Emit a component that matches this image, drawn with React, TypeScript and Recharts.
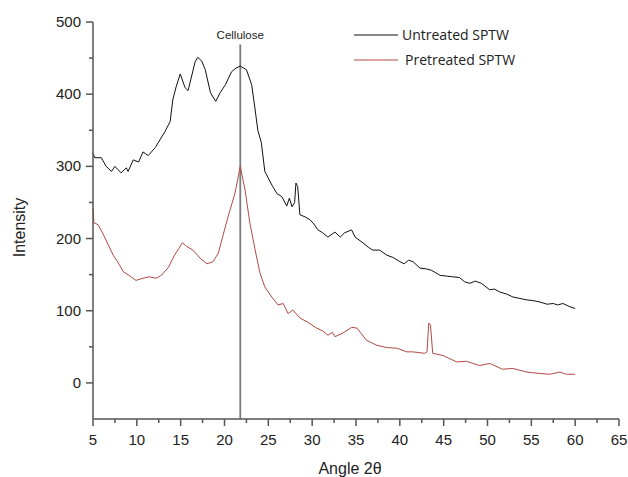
import { LineChart, Line, XAxis, YAxis, ReferenceLine, Legend } from "recharts";

// XRD patterns (angle 2θ, intensity)
const untreatedAngle = [
  5.0, 5.2, 5.95, 6.5, 7.1, 7.5, 8.2, 8.8, 9.0, 9.6, 10.2, 10.7, 11.3, 12.1, 13.2, 13.8, 14.1, 14.5,
  14.95, 15.5, 15.85, 16.65, 16.95, 17.4, 17.8, 18.4, 19.0, 19.5, 20.1, 20.8, 21.3, 21.8, 22.2, 22.5,
  23.1, 23.5, 23.8, 24.2, 24.6, 25.5, 26.0, 26.55, 27.1, 27.4, 27.7, 28.0, 28.15, 28.35, 28.6, 29.2,
  29.75, 30.2, 30.65, 31.2, 31.8, 32.6, 33.2, 33.7, 34.5, 34.9, 35.8, 36.4, 36.9, 37.7, 38.5, 39.2,
  40.0, 40.5, 41.0, 41.5, 42.3, 43.0, 43.6, 44.6, 45.3, 46.0, 46.8, 47.4, 48.0, 48.6, 49.3, 50.25,
  50.8, 51.4, 52.2, 52.9, 53.7, 54.5, 55.2, 56.0, 56.8, 57.5, 58.0, 58.6, 59.3, 60.0,
];
const untreatedIntensity = [
  318, 312, 312, 300, 293, 300, 291, 298, 293, 309, 306, 320, 315, 326, 348, 362, 392, 411,
  428, 409, 405, 445, 451, 446, 434, 402, 390, 402, 413, 431, 436, 439, 436, 434,
  413, 378, 350, 333, 293, 272, 262, 258, 245, 256, 244, 250, 277, 272, 233, 230,
  226, 220, 212, 208, 202, 209, 202, 208, 212, 202, 194, 188, 184, 184, 177, 174,
  168, 165, 170, 168, 159, 158, 156, 149, 148, 147, 146, 140, 138, 141, 138, 129,
  130, 126, 123, 119, 117, 115, 114, 112, 109, 110, 108, 110, 106, 103,
];

const pretreatedAngle = [
  5.0, 5.1, 5.6, 6.2, 6.75, 7.3, 7.9, 8.45, 9.1, 9.9, 10.7, 11.4, 12.2, 12.8, 13.6, 14.3, 15.2, 15.7,
  16.4, 17.2, 18.0, 18.7, 19.3, 19.6, 20.4, 21.2, 21.8, 22.35, 22.9, 23.5, 24.05, 24.6, 25.4, 26.1,
  26.7, 27.25, 27.8, 28.6, 29.5, 30.5, 31.2, 31.8, 32.3, 32.6, 33.5, 34.5, 35.1, 36.2, 37.4, 38.5,
  39.7, 40.8, 41.5, 42.85, 43.1, 43.3, 43.5, 43.75, 44.9, 46.5, 47.6, 49.1, 50.25, 51.7, 52.9, 54.5,
  56.0, 57.1, 58.25, 59.0, 60.0,
];
const pretreatedIntensity = [
  242, 222, 219, 205, 191, 177, 166, 154, 149, 142, 145, 147, 145, 149, 160, 177, 194, 189,
  184, 173, 165, 168, 180, 194, 230, 263, 300, 267, 221, 184, 152, 133, 119, 108,
  110, 96, 101, 90, 84, 76, 72, 66, 70, 64, 69, 77, 76, 59, 52, 49,
  48, 43, 43, 41, 43, 83, 80, 41, 38, 29, 30, 24, 27, 19, 20, 15,
  13, 12, 15, 12, 12,
];

const seriesNames = ["Untreated SPTW", "Pretreated SPTW"];
const xTicks = [5, 7.5, 10, 12.5, 15, 17.5, 20, 22.5, 25, 27.5, 30, 32.5, 35, 37.5, 40, 42.5, 45, 47.5, 50, 52.5, 55, 57.5, 60, 62.5, 65];
const yTicks = [0, 50, 100, 150, 200, 250, 300, 350, 400, 450, 500];
const celluloseAngle = 21.8;
const celluloseTop = 469;

const untreated = untreatedAngle.map((angle, i) => ({ angle, intensity: untreatedIntensity[i] }));
const pretreated = pretreatedAngle.map((angle, i) => ({ angle, intensity: pretreatedIntensity[i] }));

const AXIS = "#555";
const BLACK = "#111";
const RED = "#b34a44";
const FONT = "'Liberation Sans', Arial, sans-serif";

function XTick({ x, y, payload }: any) {
  const major = payload.value % 5 === 0;
  return (
    <g>
      <line x1={x} x2={x} y1={y} y2={y + (major ? 7 : 4)} stroke={AXIS} strokeWidth={1.5} />
      {major && (
        <text x={x} y={y + 26} textAnchor="middle" fontSize={15} fill="#222" fontFamily={FONT}>
          {payload.value}
        </text>
      )}
    </g>
  );
}

function YTick({ x, y, payload }: any) {
  const major = payload.value % 100 === 0;
  return (
    <g>
      <line x1={x} x2={x - (major ? 7 : 4)} y1={y} y2={y} stroke={AXIS} strokeWidth={1.5} />
      {major && (
        <text x={x - 12} y={y + 5} textAnchor="end" fontSize={15} fill="#222" fontFamily={FONT}>
          {payload.value}
        </text>
      )}
    </g>
  );
}

function LegendBox({ payload }: any) {
  const items = [...(payload || [])].sort(
    (a: any, b: any) => seriesNames.indexOf(a.value) - seriesNames.indexOf(b.value)
  );
  return (
    <div style={{ fontFamily: "'Open Sans', sans-serif", fontSize: 14, color: "#222" }}>
      {items.map((p: any, i: number) => (
        <div key={p.value} style={{ display: "flex", alignItems: "center", height: 25 }}>
          <svg width={44} height={4}>
            <line x1={0} x2={44} y1={2} y2={2} stroke={p.color} strokeWidth={1.2} />
          </svg>
          <span style={{ marginLeft: i === 0 ? 4 : 7 }}>{p.value}</span>
        </div>
      ))}
    </div>
  );
}

export default function App() {
  return (
    <div style={{ position: "absolute", left: 0, top: 0, background: "#fff" }}>
      <LineChart width={628} height={477} margin={{ top: 22, right: 9, bottom: 0, left: 0 }}>
        <XAxis
          dataKey="angle"
          type="number"
          domain={[5, 65]}
          ticks={xTicks}
          interval={0}
          height={58}
          tickSize={0}
          tickMargin={0}
          tickLine={false}
          tick={<XTick />}
          axisLine={{ stroke: AXIS, strokeWidth: 1.5 }}
          label={({ viewBox }: any) => (
            <text
              x={(viewBox?.x ?? 93) + (viewBox?.width ?? 526) / 2 - 6}
              y={(viewBox?.y ?? 419) + 55}
              textAnchor="middle"
              fontSize={16}
              fill="#222"
              fontFamily={FONT}
            >
              Angle 2θ
            </text>
          )}
        />
        <YAxis
          type="number"
          domain={[-50, 500]}
          ticks={yTicks}
          interval={0}
          width={93}
          tickSize={0}
          tickMargin={0}
          tickLine={false}
          tick={<YTick />}
          axisLine={{ stroke: AXIS, strokeWidth: 1.5 }}
          label={({ viewBox }: any) => {
            const cx = 19;
            const cy = (viewBox?.y ?? 22) + (viewBox?.height ?? 397) / 2 + 7;
            return (
              <text
                x={cx}
                y={cy}
                transform={`rotate(-90 ${cx} ${cy})`}
                textAnchor="middle"
                dominantBaseline="central"
                fontSize={16}
                fill="#222"
                fontFamily={FONT}
              >
                Intensity
              </text>
            );
          }}
        />
        <ReferenceLine
          segment={[
            { x: celluloseAngle, y: -50 },
            { x: celluloseAngle, y: celluloseTop },
          ]}
          stroke="#7a7a7a"
          strokeWidth={1.8}
          label={{ value: "Cellulose", position: "top", fontSize: 11.5, fill: "#222", fontFamily: FONT }}
        />
        <Line
          data={untreated}
          dataKey="intensity"
          name={seriesNames[0]}
          stroke={BLACK}
          strokeWidth={1}
          dot={false}
          type="linear"
          isAnimationActive={false}
        />
        <Line
          data={pretreated}
          dataKey="intensity"
          name={seriesNames[1]}
          stroke={RED}
          strokeWidth={1}
          dot={false}
          type="linear"
          isAnimationActive={false}
        />
        <Legend
          layout="vertical"
          align="center"
          verticalAlign="middle"
          content={<LegendBox />}
          wrapperStyle={{ top: 22, left: 354, width: 220, height: 50 }}
        />
      </LineChart>
    </div>
  );
}
